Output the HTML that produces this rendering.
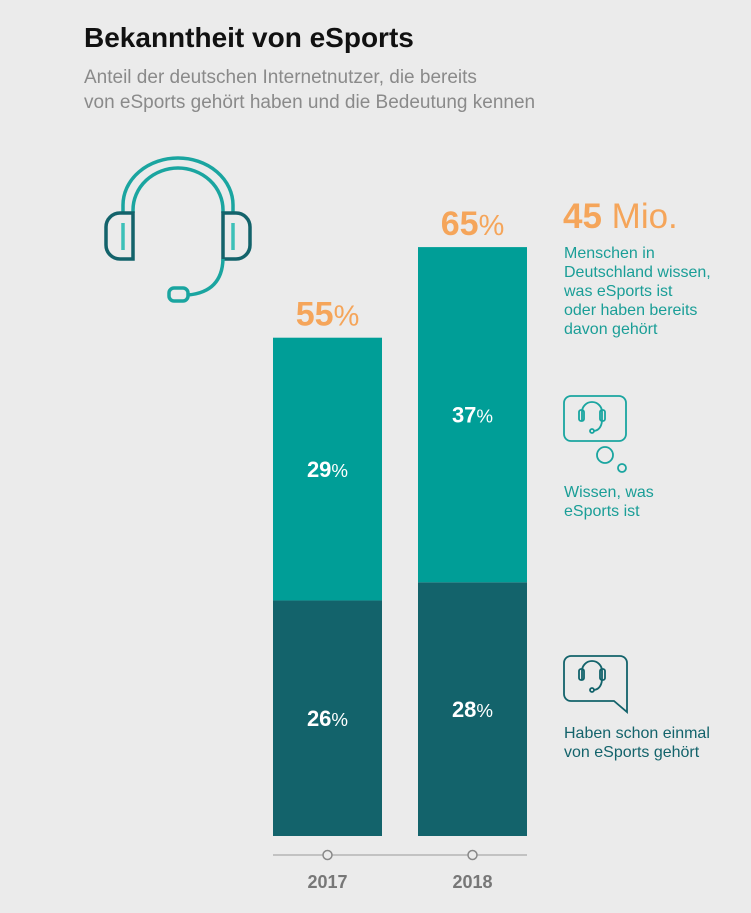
<!DOCTYPE html>
<html><head><meta charset="utf-8"><style>
body{margin:0;background:#ebebeb;font-family:"Liberation Sans",sans-serif;}
#wrap{position:relative;width:751px;height:913px;overflow:hidden;background:#ebebeb}
.t{position:absolute;white-space:nowrap}
</style></head><body>
<div id="wrap">
<div class="t" style="left:84px;top:22px;font-size:28px;font-weight:bold;color:#111">Bekanntheit von eSports</div>
<div class="t" style="left:84px;top:65px;font-size:19px;line-height:25px;color:#8a8a8a">Anteil der deutschen Internetnutzer, die bereits<br>von eSports gehört haben und die Bedeutung kennen</div>
<svg id="svg" width="751" height="913" style="position:absolute;left:0;top:0">
<g fill="none" stroke-width="3.5">
<path d="M123 213 V205 A55 47 0 0 1 233 205 V213" stroke="#1aa5a0"/>
<path d="M133 213 V210 A45 42 0 0 1 223 210 V213" stroke="#1aa5a0"/>
<path d="M133 213 V259 H120 A14 14 0 0 1 106 245 V227 A14 14 0 0 1 120 213 Z" stroke="#13636b"/>
<path d="M223 213 V259 H236 A14 14 0 0 0 250 245 V227 A14 14 0 0 0 236 213 Z" stroke="#13636b"/>
<line x1="123" y1="223" x2="123" y2="250" stroke="#3cc0b8"/>
<line x1="233" y1="223" x2="233" y2="250" stroke="#3cc0b8"/>
<path d="M223 259 Q222 292 188 295" stroke="#1aa5a0"/>
<rect x="169" y="288" width="19" height="13" rx="5" stroke="#1aa5a0"/>
</g>
<g fill="none" stroke="#1aa5a0" stroke-width="1.8">
<rect x="564" y="396" width="62" height="45" rx="7"/>
<circle cx="605" cy="455" r="8"/><circle cx="622" cy="468" r="4"/>
<path d="M582 421 V412 A10 10 0 0 1 602 412 V421"/>
<rect x="579" y="410" width="5" height="11" rx="2"/><rect x="600" y="410" width="5" height="11" rx="2"/>
<path d="M602 421 Q601 430 594 431"/><circle cx="592" cy="431" r="2"/>
</g>
<g fill="none" stroke="#13636b" stroke-width="1.8">
<path d="M571 656 H620 A7 7 0 0 1 627 663 V712 L614 701 H571 A7 7 0 0 1 564 694 V663 A7 7 0 0 1 571 656 Z"/>
<path d="M582 680 V671 A10 10 0 0 1 602 671 V680"/>
<rect x="579" y="669" width="5" height="11" rx="2"/><rect x="600" y="669" width="5" height="11" rx="2"/>
<path d="M602 680 Q601 689 594 690"/><circle cx="592" cy="690" r="2"/>
</g>
<line x1="273" y1="855" x2="527" y2="855" stroke="#999" stroke-width="1"/>
<g id="bars"></g>
</svg>
<div class="t" style="left:563px;top:197px;font-size:35px;color:#f5a55a"><b>45</b> Mio.</div>
<div class="t" style="left:564px;top:244px;font-size:16px;line-height:19px;color:#1a9e97">Menschen in<br>Deutschland wissen,<br>was eSports ist<br>oder haben bereits<br>davon gehört</div>
<div class="t" style="left:564px;top:483px;font-size:16px;line-height:19px;color:#1a9e97">Wissen, was<br>eSports ist</div>
<div class="t" style="left:564px;top:724px;font-size:16px;line-height:19px;color:#13636b">Haben schon einmal<br>von eSports gehört</div>
</div>
<script>
const years=["2017","2018"];
const heard=[26,28];
const know=[29,37];
const totals=[55,65];
const NS="http://www.w3.org/2000/svg";
const base=836,pxPer=9.06,barW=109,x0=273,gap=145;
const y=v=>base-v*pxPer;
const g=document.getElementById('bars');
function mk(tag,attrs){const e=document.createElementNS(NS,tag);for(const k in attrs)e.setAttribute(k,attrs[k]);g.appendChild(e);return e;}
function txt(x,yy,size,color,val,weight){const e=mk('text',{x:x,y:yy,'text-anchor':'middle','font-size':size,fill:color,'font-family':'Liberation Sans, sans-serif','font-weight':weight});
const a=document.createElementNS(NS,'tspan');a.textContent=val;e.appendChild(a);
const b=document.createElementNS(NS,'tspan');b.textContent='%';b.setAttribute('font-weight','normal');b.setAttribute('font-size',size*0.85);e.appendChild(b);return e;}
years.forEach((yr,i)=>{
const x=x0+i*gap,cx=x+barW/2;
const r1=mk('rect',{x:x,y:y(heard[i]),width:barW,height:heard[i]*pxPer,fill:'#13636b'});


const r2=mk('rect',{x:x,y:y(heard[i]+know[i]),width:barW,height:know[i]*pxPer,fill:'#009e97'});


const l1=txt(cx,(y(heard[i])+base)/2+8,22,'#fff',heard[i],'bold');


const l2=txt(cx,(y(heard[i])+y(heard[i]+know[i]))/2+8,22,'#fff',know[i],'bold');


const l3=txt(cx,y(totals[i])-12,34,'#f5a55a',totals[i],'bold');


const c=mk('circle',{cx:cx,cy:855,r:4.5,fill:'#ebebeb',stroke:'#888','stroke-width':1.5});


const t=mk('text',{x:cx,y:888,'text-anchor':'middle','font-size':18,fill:'#777','font-weight':'bold','font-family':'Liberation Sans, sans-serif'});
t.textContent=yr;


});
</script>
</body></html>
